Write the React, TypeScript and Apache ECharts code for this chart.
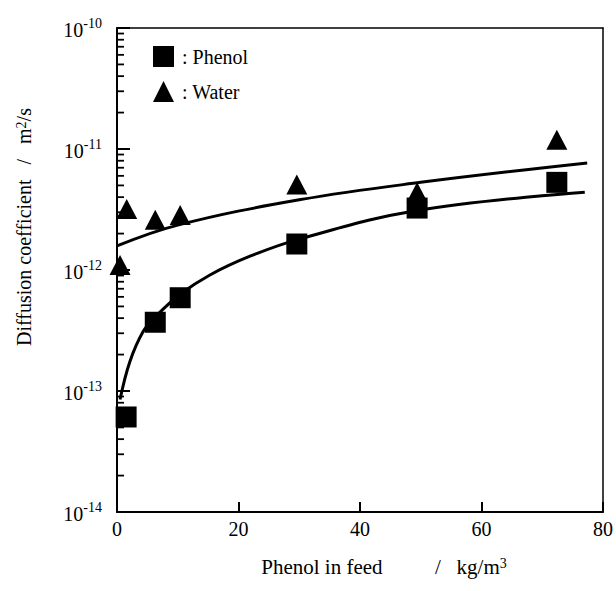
import React, { useEffect, useRef } from "react";
import * as echarts from "echarts";

// Measured diffusion coefficients (m^2/s) vs phenol concentration in feed (kg/m^3)
const phenolPoints: [number, number][] = [
  [1.5, 6.1e-14],
  [6.3, 3.7e-13],
  [10.4, 5.9e-13],
  [29.6, 1.64e-12],
  [49.4, 3.25e-12],
  [72.4, 5.3e-12],
];

const waterPoints: [number, number][] = [
  [0.5, 1.1e-12],
  [1.6, 3.2e-12],
  [6.3, 2.6e-12],
  [10.4, 2.85e-12],
  [29.6, 5.1e-12],
  [49.4, 4.4e-12],
  [72.4, 1.19e-11],
];

// Fitted curves
const phenolFit: [number, number][] = [
  [0.5, 8.5e-14],
  [2.1, 1.74e-13],
  [4.3, 3.1e-13],
  [6.3, 4.1e-13],
  [10.4, 6.3e-13],
  [15.3, 9.1e-13],
  [21.9, 1.3e-12],
  [30, 1.8e-12],
  [49.4, 3.1e-12],
  [77, 4.4e-12],
];

const waterFit: [number, number][] = [
  [0, 1.58e-12],
  [10, 2.35e-12],
  [30, 3.8e-12],
  [50, 5.3e-12],
  [77.4, 7.66e-12],
];

// Log axis minor tick positions (2..9 within each decade)
const decades = [-14, -13, -12, -11];
const minorMultipliers = [2, 3, 4, 5, 6, 7, 8, 9];

const FONT = "'Liberation Serif', 'DejaVu Serif', serif";

export default function App() {
  const ref = useRef<HTMLDivElement>(null);

  useEffect(() => {
    if (!ref.current) return;
    const chart = echarts.init(ref.current, undefined, { renderer: "svg" });

    const minorValues: number[] = [];
    decades.forEach((d) => minorMultipliers.forEach((m) => minorValues.push(m * Math.pow(10, d))));

    const supStyle = { fontFamily: FONT, fontSize: 14, color: "#000", verticalAlign: "top", lineHeight: 14 };
    const frameLine = { show: true, lineStyle: { color: "#000", width: 1.5 } };

    chart.setOption({
      animation: false,
      backgroundColor: "#fff",
      grid: { left: 117, right: 13, top: 28, bottom: 79, show: false, containLabel: false },
      legend: {
        orient: "vertical",
        left: 148,
        top: 41,
        itemWidth: 21,
        itemHeight: 21,
        itemGap: 14,
        data: ["Phenol", "Water"],
        formatter: (name: string) => ": " + name,
        itemStyle: { opacity: 1 },
        textStyle: { fontFamily: FONT, fontSize: 20, color: "#000", padding: [0, 0, 0, 3] },
      },
      xAxis: [
        {
          type: "value",
          min: 0,
          max: 80,
          interval: 20,
          position: "bottom",
          name: "Phenol in feed          /   kg/m{sup|3}",
          nameLocation: "middle",
          nameGap: 44,
          nameTextStyle: {
            fontFamily: FONT,
            fontSize: 21,
            color: "#000",
            padding: [0, 0, 0, 48],
            rich: { sup: supStyle },
          },
          axisLine: { show: true, onZero: false, lineStyle: { color: "#000", width: 2 } },
          axisTick: { show: true, inside: true, length: 10, lineStyle: { color: "#000", width: 2 } },
          axisLabel: { fontFamily: FONT, fontSize: 20, color: "#000", margin: 7 },
          splitLine: { show: false },
          z: 10,
        },
        {
          // top frame edge
          type: "value",
          min: 0,
          max: 80,
          position: "top",
          axisLine: { ...frameLine, onZero: false },
          axisTick: { show: false },
          axisLabel: { show: false },
          splitLine: { show: false },
          z: 10,
        },
      ],
      yAxis: [
        {
          type: "log",
          logBase: 10,
          min: 1e-14,
          max: 1e-10,
          position: "left",
          name: "Diffusion coefficient   /   m{sup|2}/s",
          nameLocation: "middle",
          nameGap: 83,
          nameTextStyle: {
            fontFamily: FONT,
            fontSize: 20,
            color: "#000",
            padding: [0, 0, 0, 86],
            rich: { sup: supStyle },
          },
          axisLine: { show: true, onZero: false, lineStyle: { color: "#000", width: 2 } },
          axisTick: { show: true, inside: true, length: 13, lineStyle: { color: "#000", width: 2 } },
          axisLabel: {
            margin: 15,
            formatter: (v: number) => `{b|10}{s|${Math.round(Math.log10(v))}}`,
            rich: {
              b: { fontFamily: FONT, fontSize: 20, color: "#000", lineHeight: 24, verticalAlign: "bottom" },
              s: { fontFamily: FONT, fontSize: 14, color: "#000", lineHeight: 14, verticalAlign: "top" },
            },
          },
          splitLine: { show: false },
          z: 10,
        },
        {
          // right frame edge
          type: "log",
          logBase: 10,
          min: 1e-14,
          max: 1e-10,
          position: "right",
          axisLine: { ...frameLine, onZero: false },
          axisTick: { show: false },
          axisLabel: { show: false },
          splitLine: { show: false },
          z: 10,
        },
      ],
      series: [
        {
          name: "Phenol fit",
          type: "line",
          data: phenolFit,
          smooth: 0.4,
          showSymbol: false,
          lineStyle: { color: "#000", width: 3 },
          z: 2,
        },
        {
          name: "Water fit",
          type: "line",
          data: waterFit,
          smooth: 0.4,
          showSymbol: false,
          lineStyle: { color: "#000", width: 3 },
          z: 2,
        },
        {
          name: "Phenol",
          type: "scatter",
          data: phenolPoints,
          symbol: "rect",
          symbolSize: 21,
          itemStyle: { color: "#000", opacity: 1 },
          z: 3,
        },
        {
          name: "Water",
          type: "scatter",
          data: waterPoints,
          symbol: "triangle",
          symbolSize: [21, 20],
          itemStyle: { color: "#000", opacity: 1 },
          z: 3,
        },
        {
          // minor ticks of the log axis, placed through the axis scale
          name: "minor",
          type: "custom",
          xAxisIndex: 0,
          yAxisIndex: 0,
          clip: false,
          silent: true,
          encode: { x: 0, y: 1 },
          data: minorValues.map((v) => [0, v]),
          renderItem: (_params: any, api: any) => {
            const p = api.coord([api.value(0), api.value(1)]);
            return {
              type: "rect",
              shape: { x: p[0], y: p[1] - 0.9, width: 7, height: 1.8 },
              style: { fill: "#000" },
            };
          },
          z: 1,
        },
      ],
    });

    return () => chart.dispose();
  }, []);

  return (
    <div
      ref={ref}
      style={{ position: "fixed", left: 0, top: 0, width: 616, height: 591, background: "#fff" }}
    />
  );
}
